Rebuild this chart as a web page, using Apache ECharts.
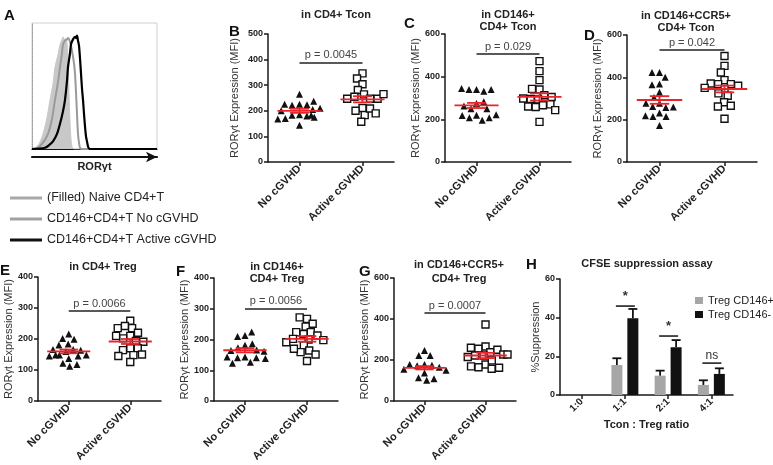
<!DOCTYPE html>
<html><head><meta charset="utf-8">
<script src="https://cdn.jsdelivr.net/npm/echarts@6/dist/echarts.min.js"></script>
<style>html,body{margin:0;padding:0;background:#fff}#c{width:773px;height:465px}</style>
</head><body><div id="c"></div>
<script>
const FONT = 'Liberation Sans, Arial, Helvetica, sans-serif';
const groups = ['No cGVHD', 'Active cGVHD'];

// Panel A: histogram curves [channel, % of max]
const histNames = ['(Filled) Naive CD4+T', 'CD146+CD4+T No cGVHD', 'CD146+CD4+T Active cGVHD'];
const histNaive = [[0,0],[3,0.5],[7,4],[11,12],[15,25],[18,39],[21,52],[23,65],[26,75],[28,83],[30,87],[31,89],[33,86],[34,88],[35,84],[36,70],[37,45],[38,22],[39,8],[40,2],[42,0],[125,0]];
const histNoCgvhd = [[0,0],[6,1],[11,5],[16,12],[20,24],[23,39],[26,53],[28,65],[30,76],[31,83],[33,86],[35,87],[36,88],[38,85],[40,78],[42,68],[43,60],[44,45],[45,28],[46,12],[47,5],[48,1],[50,0],[125,0]];
const histActive = [[0,0],[13,1],[17,3],[21,6],[25,12],[28,20],[31,30],[33,39],[35,54],[36,65],[38,76],[39,83],[41,87],[43,89],[44,88],[45,90],[46,86],[47,82],[48,72],[49,60],[50,48],[51,39],[52,28],[53,18],[54,10],[55,6],[56,2],[57,0.5],[58,0],[125,0]];

// Panel B: in CD4+ Tcon
const bNo = [265,226,222,224,226,237,205,200,210,185,183,180,175,183,170,168,144];
const bAct = [346,326,304,281,264,255,247,247,247,265,211,200,183,209,157,190];
const bMean = [200,245], bSem = [8,12], bP = 'p = 0.0045', bBracket = 387;
// Panel C: in CD146+ CD4+ Tcon
const cNo = [340,340,332,340,345,274,250,282,262,250,219,208,196,208,218,222];
const cAct = [473,426,384,340,343,313,293,295,305,298,266,270,258,260,243,188];
const cMean = [265,305], cSem = [12,17], cP = 'p = 0.029', cBracket = 506;
// Panel D: in CD146+CCR5+ CD4+ Tcon
const dNo = [423,423,400,368,365,329,305,277,262,258,260,277,232,215,215,219,172];
const dAct = [501,454,423,387,368,368,371,360,345,350,324,313,282,266,262,204];
const dMean = [293,345], dSem = [18,16], dP = 'p = 0.042', dBracket = 528;
// Panel E: in CD4+ Treg
const eNo = [216,202,199,184,181,166,160,164,166,148,148,145,145,137,148,122,112,118];
const eAct = [259,242,235,220,235,210,202,194,191,210,170,164,170,148,150,145,126];
const eMean = [160,192], eSem = [6,8], eP = 'p = 0.0066', eBracket = 290;
// Panel F: in CD146+ CD4+ Treg
const fNo = [213,210,224,181,186,173,166,164,162,143,141,126,123,141,143,138];
const fAct = [267,272,251,242,224,218,213,224,202,200,198,181,191,164,159,151,170,130];
const fMean = [165,202], fSem = [7,9], fP = 'p = 0.0056', fBracket = 300;
// Panel G: in CD146+CCR5+ CD4+ Treg
const gNo = [246,222,222,178,172,174,178,165,155,150,136,114,101,109];
const gAct = [373,266,255,238,250,260,227,222,222,215,227,178,165,157,162,169,198];
const gMean = [162,222], gSem = [8,13], gP = 'p = 0.0007', gBracket = 429;

// Panel H: CFSE suppression assay
const ratios = ['1:0','1:1','2:1','4:1'];
const barNames = ['Treg CD146+','Treg CD146-'];
const tregPos = [0,15.5,10.0,5.2], tregPosErr = [0,3.5,2.6,2.4];
const tregNeg = [0,39.7,24.7,10.9], tregNegErr = [0,4.8,3.7,2.9];
const sigY = [0,46,30.5,16.5], sigText = ['','*','*','ns'];

const RED = '#e8252b', INK = '#1a1a1a';

const panels = [
  {grid:{left:268,top:34,width:126,height:128}, max:500, step:100, no:bNo, act:bAct, mean:bMean, sem:bSem, p:bP, br:bBracket, gap:28},
  {grid:{left:445,top:34,width:126,height:128}, max:600, step:200, no:cNo, act:cAct, mean:cMean, sem:cSem, p:cP, br:cBracket, gap:19},
  {grid:{left:627,top:35,width:130,height:127}, max:600, step:200, no:dNo, act:dAct, mean:dMean, sem:dSem, p:dP, br:dBracket, gap:21},
  {grid:{left:38,top:277,width:123,height:124}, max:400, step:100, no:eNo, act:eAct, mean:eMean, sem:eSem, p:eP, br:eBracket, gap:23},
  {grid:{left:214,top:278,width:124,height:123}, max:400, step:100, no:fNo, act:fAct, mean:fMean, sem:fSem, p:fP, br:fBracket, gap:22},
  {grid:{left:394,top:278,width:122,height:123}, max:600, step:200, no:gNo, act:gAct, mean:gMean, sem:gSem, p:gP, br:gBracket, gap:20}
];

const grids = [], xAxes = [], yAxes = [], series = [];
const axLine = {show:true, lineStyle:{color:INK, width:1.5}};
const axTick = {show:true, length:4, lineStyle:{color:INK, width:1.5}};

// Panel A
grids.push({left:32, top:23, width:125, height:126, show:true, borderColor:'#cfcfcf', borderWidth:1, outerBoundsMode:'none'});
xAxes.push({gridIndex:0, type:'value', min:0, max:125, axisLine:{show:true, lineStyle:{color:'#111', width:1.2}}, axisTick:{show:false}, axisLabel:{show:false}, splitLine:{show:false}});
xAxes.push({gridIndex:0, type:'value', min:0, max:125, position:'bottom', offset:8,
  axisLine:{show:true, symbol:['none','arrow'], symbolSize:[8,11], lineStyle:{color:'#111', width:2.2}},
  axisTick:{show:false}, axisLabel:{show:false}, splitLine:{show:false},
  name:'RORγt', nameLocation:'middle', nameGap:4, nameTextStyle:{fontFamily:FONT, fontWeight:'bold', fontSize:11, color:'#222'}});
yAxes.push({gridIndex:0, type:'value', min:0, max:100, axisLine:{show:true, lineStyle:{color:'#999', type:'dotted', width:1}}, axisTick:{show:false}, axisLabel:{show:false}, splitLine:{show:false}});
series.push({name:histNames[0], type:'line', xAxisIndex:0, yAxisIndex:0, data:histNaive, smooth:0.3, showSymbol:false, symbol:'none',
  lineStyle:{color:'#c8c8c8', width:1}, areaStyle:{color:'#c8c8c8', opacity:1}, itemStyle:{color:'#a8a8a8'}, z:1, animation:false});
series.push({name:histNames[1], type:'line', xAxisIndex:0, yAxisIndex:0, data:histNoCgvhd, smooth:0.3, showSymbol:false, symbol:'none',
  lineStyle:{color:'#9a9a9a', width:2}, itemStyle:{color:'#a0a0a0'}, z:2, animation:false});
series.push({name:histNames[2], type:'line', xAxisIndex:0, yAxisIndex:0, data:histActive, smooth:0.3, showSymbol:false, symbol:'none',
  lineStyle:{color:'#000', width:2.2}, itemStyle:{color:'#111'}, z:3, animation:false});

// Scatter panels
panels.forEach((pn, i) => {
  const gi = i + 1;
  grids.push(Object.assign({outerBoundsMode:'none'}, pn.grid));
  const xi = xAxes.length;
  xAxes.push({gridIndex:gi, type:'category', data:groups, boundaryGap:true,
    jitter:46, jitterOverlap:false, jitterMargin:0.5,
    axisLine:axLine, axisTick:Object.assign({alignWithLabel:true}, axTick),
    axisLabel:{rotate:45, margin:5, fontFamily:FONT, fontWeight:'bold', fontSize:11, color:'#222', interval:0},
    splitLine:{show:false}});
  const yi = yAxes.length;
  yAxes.push({gridIndex:gi, type:'value', min:0, max:pn.max, interval:pn.step,
    axisLine:axLine, axisTick:axTick, splitLine:{show:false},
    axisLabel:{margin:5, fontFamily:FONT, fontWeight:'bold', fontSize:9, color:'#222'},
    name:'RORγt Expression (MFI)', nameLocation:'middle', nameGap:pn.gap,
    nameTextStyle:{fontFamily:FONT, fontSize:11, color:'#333'}});
  series.push({type:'scatter', xAxisIndex:xi, yAxisIndex:yi, symbol:'triangle', symbolSize:7,
    itemStyle:{color:'#111', opacity:1}, data:pn.no.map(v => [0, v]), z:2, animation:false,
    markLine:{silent:true, symbol:'none', animation:false,
      lineStyle:{color:'#222', width:1.5, type:'solid'},
      label:{show:true, position:'insideMiddleTop', distance:2, formatter:pn.p, fontFamily:FONT, fontSize:11, color:'#444'},
      data:[[{coord:[0, pn.br]}, {coord:[1, pn.br]}]]}});
  series.push({type:'scatter', xAxisIndex:xi, yAxisIndex:yi, symbol:'rect', symbolSize:7,
    itemStyle:{color:'#fff', borderColor:'#111', borderWidth:1.4, opacity:1}, data:pn.act.map(v => [1, v]), z:2, animation:false});
  series.push({type:'custom', xAxisIndex:xi, yAxisIndex:yi, z:5, animation:false, silent:true,
    data:pn.mean.map((m, k) => [k, m, pn.sem[k]]),
    encode:{x:0, y:1},
    renderItem(params, api) {
      const c = api.value(0), m = api.value(1), s = api.value(2);
      const p = api.coord([c, m]);
      const bw = Math.abs(api.coord([1, m])[0] - api.coord([0, m])[0]);
      const yu = api.coord([c, m + s])[1], yd = api.coord([c, m - s])[1];
      const st = {stroke:RED, lineWidth:1.8};
      const hw = bw * 0.35, sw = bw * 0.15;
      return {type:'group', children:[
        {type:'line', shape:{x1:p[0]-hw, y1:p[1], x2:p[0]+hw, y2:p[1]}, style:st},
        {type:'line', shape:{x1:p[0]-sw, y1:yu, x2:p[0]+sw, y2:yu}, style:st},
        {type:'line', shape:{x1:p[0]-sw, y1:yd, x2:p[0]+sw, y2:yd}, style:st},
        {type:'line', shape:{x1:p[0], y1:yu, x2:p[0], y2:yd}, style:st}
      ]};
    }});
});

// Panel H
const hg = grids.length;
grids.push({left:560, top:279, width:173, height:116, outerBoundsMode:'none'});
const hx = xAxes.length;
xAxes.push({gridIndex:hg, type:'category', data:ratios, boundaryGap:true,
  axisLine:axLine, axisTick:Object.assign({alignWithLabel:true}, axTick),
  axisLabel:{rotate:45, margin:5, fontFamily:FONT, fontWeight:'bold', fontSize:10, color:'#222', interval:0},
  name:'Tcon : Treg ratio', nameLocation:'middle', nameGap:24,
  nameTextStyle:{fontFamily:FONT, fontWeight:'bold', fontSize:11, color:'#222'}});
const hy = yAxes.length;
yAxes.push({gridIndex:hg, type:'value', min:0, max:60, interval:20,
  axisLine:axLine, axisTick:axTick, splitLine:{show:false},
  axisLabel:{margin:5, fontFamily:FONT, fontWeight:'bold', fontSize:9, color:'#222'},
  name:'%Suppression', nameLocation:'middle', nameGap:17,
  nameTextStyle:{fontFamily:FONT, fontSize:11, color:'#333'}});
series.push({name:barNames[0], type:'bar', xAxisIndex:hx, yAxisIndex:hy, data:tregPos, barWidth:11, barGap:'45%', itemStyle:{color:'#a6a6a6'}, z:2, animation:false});
series.push({name:barNames[1], type:'bar', xAxisIndex:hx, yAxisIndex:hy, data:tregNeg, barWidth:11, barGap:'45%', itemStyle:{color:'#111'}, z:2, animation:false});
function errSeries(vals, errs, dx) {
  return {type:'custom', xAxisIndex:hx, yAxisIndex:hy, z:4, animation:false, silent:true,
    data:vals.map((v, k) => [k, v, errs[k]]), encode:{x:0, y:1},
    renderItem(params, api) {
      const c = api.value(0), v = api.value(1), e = api.value(2);
      if (!v) return null;
      const p = api.coord([c, v]); const top = api.coord([c, v + e])[1];
      const x = p[0] + dx; const st = {stroke:'#111', lineWidth:1.8};
      return {type:'group', children:[
        {type:'line', shape:{x1:x, y1:p[1], x2:x, y2:top}, style:st},
        {type:'line', shape:{x1:x-4.5, y1:top, x2:x+4.5, y2:top}, style:st}
      ]};
    }};
}
series.push(errSeries(tregPos, tregPosErr, -8));
series.push(errSeries(tregNeg, tregNegErr, 8));
series.push({type:'custom', xAxisIndex:hx, yAxisIndex:hy, z:4, animation:false, silent:true,
  data:sigY.map((v, k) => [k, v]), encode:{x:0, y:1},
  renderItem(params, api) {
    const c = api.value(0), v = api.value(1);
    if (!v) return null;
    const p = api.coord([c, v]);
    const t = sigText[params.dataIndex];
    const isStar = t === '*';
    return {type:'group', children:[
      {type:'line', shape:{x1:p[0]-9, y1:p[1], x2:p[0]+10, y2:p[1]}, style:{stroke:'#111', lineWidth:1.5}},
      {type:'text', style:{text:t, x:p[0]+0.5, y:p[1] - (isStar ? 3 : 1), align:'center', verticalAlign:'bottom',
        font:(isStar ? 'bold 13px ' : '12px ') + FONT, fill:'#333'}}
    ]};
  }});

// Text annotations (panel letters & titles)
const letters = [['A',4,8],['B',229,24],['C',404,16],['D',584,28],['E',0,263],['F',176,264],['G',359,264],['H',526,257]];
const titles = [['in CD4+ Tcon',336,15,12],['in CD146+\nCD4+ Tcon',508,21,12],['in CD146+CCR5+\nCD4+ Tcon',686,22,12],
  ['in CD4+ Treg',103,267,12],['in CD146+\nCD4+ Treg',277,273,12],['in CD146+CCR5+\nCD4+ Treg',459,272,14],['CFSE suppression assay',647,264,12]];
const graphic = [];
letters.forEach(l => graphic.push({type:'text', x:l[1], y:l[2], silent:true,
  style:{text:l[0], font:'bold 15px ' + FONT, fill:'#111', verticalAlign:'top'}}));
titles.forEach(t => graphic.push({type:'text', x:t[1], y:t[2], silent:true,
  style:{text:t[0], font:'bold 11px ' + FONT, fill:'#222', align:'center', verticalAlign:'middle', lineHeight:t[3]}}));

const option = {
  animation:false,
  backgroundColor:'#fff',
  textStyle:{fontFamily:FONT},
  grid:grids, xAxis:xAxes, yAxis:yAxes, series:series, graphic:graphic,
  legend:[
    {data:histNames, orient:'vertical', left:5, top:186, icon:'rect', itemWidth:32, itemHeight:3, itemGap:7,
      selectedMode:false, textStyle:{fontFamily:FONT, fontSize:12.5, color:'#222', lineHeight:14}},
    {data:barNames, orient:'vertical', left:690, top:289, icon:'rect', itemWidth:8, itemHeight:7, itemGap:1,
      selectedMode:false, textStyle:{fontFamily:FONT, fontSize:11, color:'#222', lineHeight:13}}
  ]
};
const chart = echarts.init(document.getElementById('c'), null, {renderer:'canvas'});
chart.setOption(option);
</script></body></html>
